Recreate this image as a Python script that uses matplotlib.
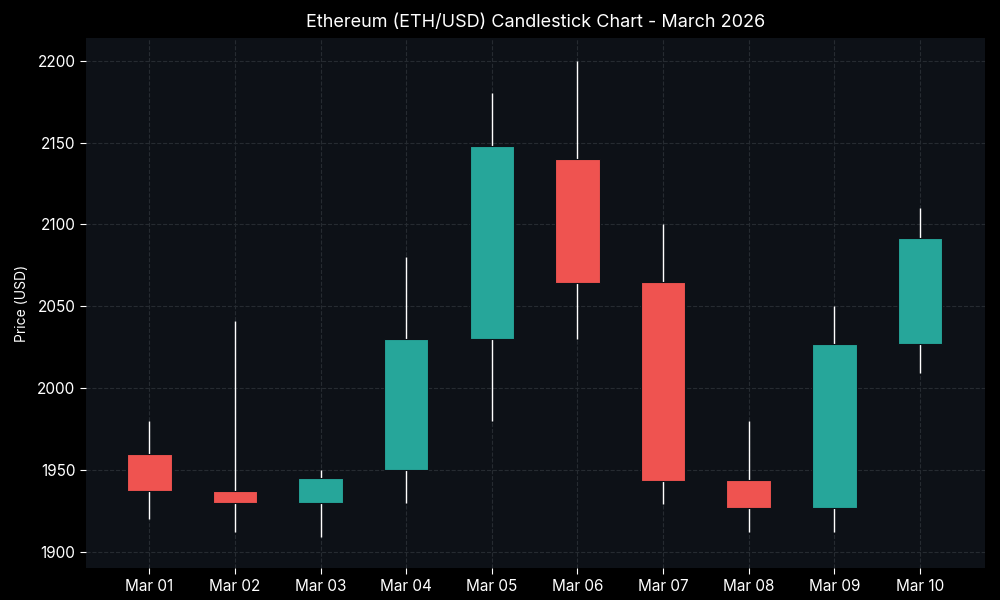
import matplotlib
matplotlib.use("Agg")
import matplotlib.pyplot as plt

plt.rcParams['font.family'] = ['Inter', 'DejaVu Sans']

dates = ['Mar 01', 'Mar 02', 'Mar 03', 'Mar 04', 'Mar 05',
         'Mar 06', 'Mar 07', 'Mar 08', 'Mar 09', 'Mar 10']
opens = [1960, 1937, 1930, 1950, 2030, 2140, 2065, 1944, 1927, 2027]
highs = [1980, 2041, 1950, 2080, 2180, 2200, 2100, 1980, 2050, 2110]
lows = [1920, 1912, 1909, 1930, 1980, 2030, 1929, 1912, 1912, 2009]
closes = [1937, 1930, 1945, 2030, 2148, 2064, 1943, 1927, 2027, 2092]

up_col = '#26a69a'
down_col = '#ef5350'

fig = plt.figure(figsize=(10, 6), dpi=100, facecolor='black')
ax = fig.add_axes([0.086, 0.053, 0.899, 0.884])
ax.set_facecolor('#0d1117')

x = list(range(len(dates)))
for i in x:
    o, h, l, c = opens[i], highs[i], lows[i], closes[i]
    col = up_col if c >= o else down_col
    ax.vlines(i, l, h, color='white', linewidth=1, zorder=2)
    ax.bar(i, abs(c - o), bottom=min(o, c), width=0.52, color=col,
           edgecolor='#0d1117', linewidth=0.8, zorder=3)

ax.set_xticks(x)
ax.set_xticklabels(dates)
ax.set_xlim(-0.74, 9.76)
ax.set_ylim(1890, 2214)
ax.set_yticks([1900, 1950, 2000, 2050, 2100, 2150, 2200])

ax.grid(True, color='#262b31', linestyle='--', linewidth=0.8, zorder=0)
for s in ax.spines.values():
    s.set_visible(False)
ax.tick_params(colors='white', labelsize=11, length=4)
ax.set_ylabel('Price (USD)', color='white', fontsize=10, labelpad=6)
ax.set_title('Ethereum (ETH/USD) Candlestick Chart - March 2026',
             color='white', fontsize=13, pad=8)

fig.savefig('out.png', dpi=100, facecolor=fig.get_facecolor())
